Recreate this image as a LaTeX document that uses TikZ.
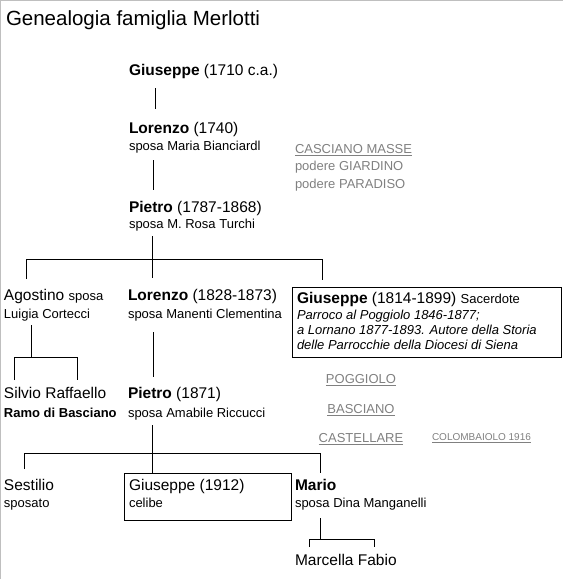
\documentclass[tikz,border=0pt]{standalone}
\usepackage{fontspec}
\setmainfont{Liberation Sans}
\newcommand{\fmain}{\fontsize{15.5}{18}\selectfont}
\newcommand{\fsub}{\fontsize{13}{15}\selectfont}
\begin{document}
\begin{tikzpicture}[x=1pt,y=-1pt,
  txt/.style={anchor=base west,inner sep=0pt,outer sep=0pt},
  main/.style={txt,font=\fmain},
  sub/.style={txt,font=\fsub},
  lnk/.style={txt,font=\fsub,text=black!50},
  lnkc/.style={anchor=base,inner sep=0pt,outer sep=0pt,font=\fsub,text=black!50},
  tiny/.style={txt,font=\fontsize{10}{12}\selectfont,text=black!50},
  uline/.style={draw=black!50,line width=0.8pt},
  tree/.style={draw=black,line width=1pt},
  boxed/.style={draw=black,line width=1pt,inner sep=0pt}]
\useasboundingbox (0,0) rectangle (563,579);
\draw[draw=black!25,line width=2pt] (0,579) -- (0,0) -- (563,0);

\node[txt,font=\fontsize{20.5}{24}\selectfont] (title) at (6,25) {Genealogia famiglia Merlotti};

% generation 1
\node[main] (g1) at (129,75) {\textbf{Giuseppe} (1710 c.a.)};
\coordinate (a1) at (155,88); \coordinate (a2) at (155,109);
\draw[tree] (a1) -- (a2);
\node[main] (lor1) at (129,133) {\textbf{Lorenzo} (1740)};
\node[sub] (lor1s) at (129,150) {sposa Maria Bianciardl};
\coordinate (b1) at (153,160); \coordinate (b2) at (153,190);
\draw[tree] (b1) -- (b2);
\node[main] (pie1) at (129,212) {\textbf{Pietro} (1787-1868)};
\node[sub] (pie1s) at (129,228) {sposa M. Rosa Turchi};

\node[lnk] (casc) at (295,153) {CASCIANO MASSE};
\draw[uline] ([yshift=-2pt]casc.base west) -- ([yshift=-2pt]casc.base east);
\node[lnk] (giar) at (295,170) {podere GIARDINO};
\node[lnk] (para) at (295,188) {podere PARADISO};

% branch from Pietro
\coordinate (c0) at (152,236); \coordinate (c1) at (152,278);
\coordinate (cl) at (26,259); \coordinate (cr) at (322,259);
\coordinate (cl2) at (26,279); \coordinate (cr2) at (322,280);
\draw[tree] (c0) -- (c1);
\draw[tree] (cl2) -- (cl) -- (cr) -- (cr2);

\node[txt] (ago) at (4,300) {\fmain Agostino \fsub sposa};
\node[sub] (agos) at (4,318) {Luigia Cortecci};
\node[main] (lor2) at (128,300) {\textbf{Lorenzo} (1828-1873)};
\node[sub] (lor2s) at (128,318) {sposa Manenti Clementina};

\node[boxed,minimum width=269pt,minimum height=70pt] (gbox) at (426.5,322) {};
\node[txt] (gb1) at (297,303) {\fmain\textbf{Giuseppe} (1814-1899) \fsub Sacerdote};
\node[sub,font=\fsub\itshape] (gb2) at (297,319) {Parroco al Poggiolo 1846-1877;};
\node[sub,font=\fsub\itshape] (gb3) at (297,334) {a Lornano 1877-1893. Autore della Storia};
\node[sub,font=\fsub\itshape] (gb4) at (297,349) {delle Parrocchie della Diocesi di Siena};

% Agostino children
\coordinate (d0) at (31,325); \coordinate (d1) at (31,357);
\coordinate (dl) at (14,357); \coordinate (dr) at (77,357);
\coordinate (dl2) at (14,380); \coordinate (dr2) at (77,380);
\draw[tree] (d0) -- (d1);
\draw[tree] (dl2) -- (dl) -- (dr) -- (dr2);

\coordinate (e0) at (153,332); \coordinate (e1) at (153,377);
\draw[tree] (e0) -- (e1);

\node[main] (silv) at (4,398) {Silvio Raffaello};
\node[sub] (ramo) at (4,417) {\textbf{Ramo di Basciano}};
\node[main] (pie2) at (128,398) {\textbf{Pietro} (1871)};
\node[sub] (pie2s) at (128,417) {sposa Amabile Riccucci};

\node[lnkc] (pogg) at (361,383) {POGGIOLO};
\draw[uline] ([yshift=-2pt]pogg.base west) -- ([yshift=-2pt]pogg.base east);
\node[lnkc] (basc) at (361,413) {BASCIANO};
\draw[uline] ([yshift=-2pt]basc.base west) -- ([yshift=-2pt]basc.base east);
\node[lnkc] (cast) at (361,442) {CASTELLARE};
\draw[uline] ([yshift=-2pt]cast.base west) -- ([yshift=-2pt]cast.base east);
\node[tiny] (colo) at (432,440) {COLOMBAIOLO 1916};
\draw[uline,line width=0.7pt] ([yshift=-2pt]colo.base west) -- ([yshift=-2pt]colo.base east);

% Pietro (1871) children
\coordinate (f0) at (152,425); \coordinate (f1) at (152,473);
\coordinate (fl) at (24,453); \coordinate (fr) at (320,453);
\coordinate (fl2) at (24,469); \coordinate (fr2) at (320,473);
\draw[tree] (f0) -- (f1);
\draw[tree] (fl2) -- (fl) -- (fr) -- (fr2);

\node[boxed,minimum width=167pt,minimum height=47pt] (box2) at (207.5,496.5) {};
\node[main] (g3) at (129,490) {Giuseppe (1912)};
\node[sub] (g3s) at (129,507) {celibe};
\node[main] (sest) at (4,490) {Sestilio};
\node[sub] (sests) at (4,507) {sposato};
\node[main] (mario) at (295,490) {\textbf{Mario}};
\node[sub] (marios) at (295,507) {sposa Dina Manganelli};

\coordinate (h0) at (320,518); \coordinate (h1) at (320,539);
\coordinate (hl) at (309,539); \coordinate (hr) at (374,539);
\coordinate (hl2) at (309,547); \coordinate (hr2) at (374,547);
\draw[tree] (h0) -- (h1);
\draw[tree] (hl2) -- (hl) -- (hr) -- (hr2);
\node[main] (marc) at (295,565) {Marcella Fabio};
\end{tikzpicture}
\end{document}
